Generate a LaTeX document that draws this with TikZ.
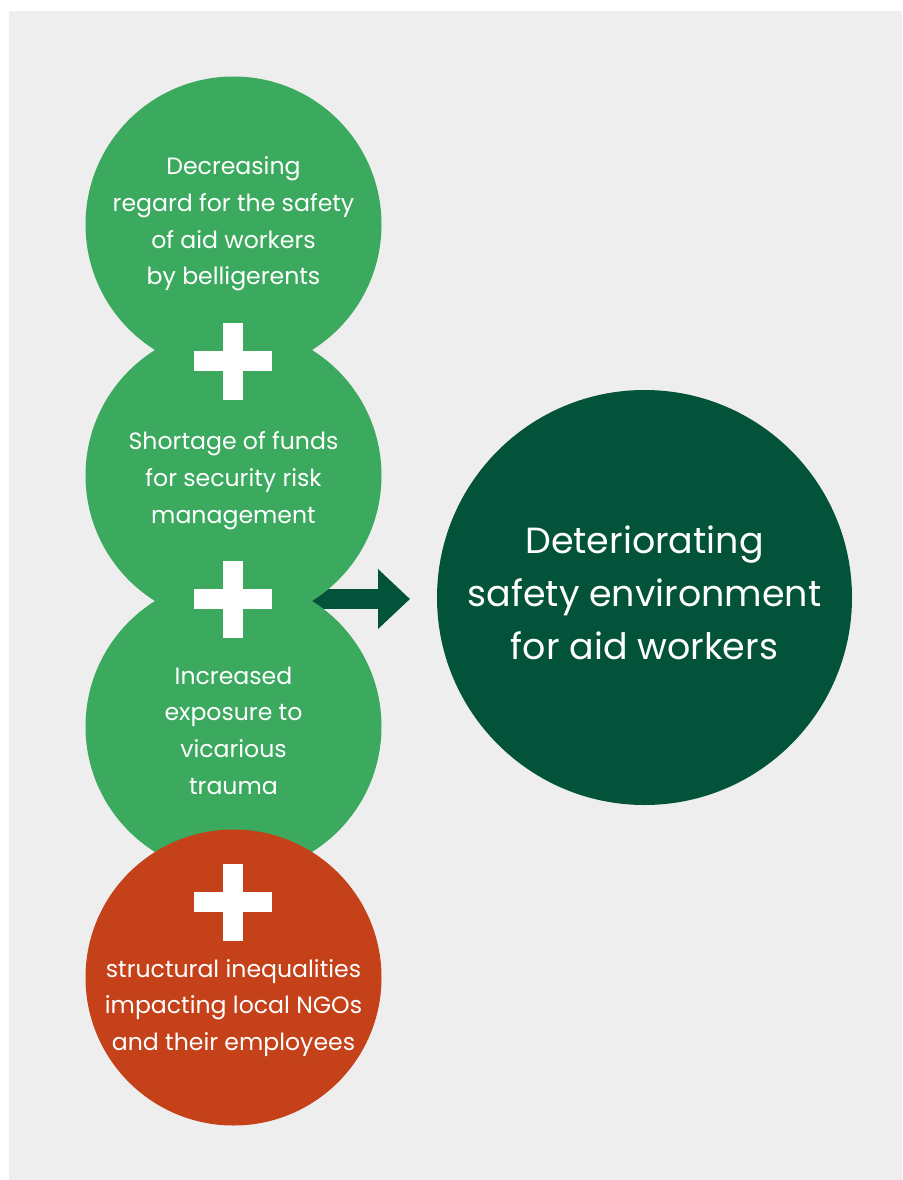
\documentclass[tikz,border=0pt]{standalone}
\usepackage{fontspec}
\setmainfont{Poppins}
\usetikzlibrary{arrows.meta}

\definecolor{panelgray}{HTML}{EEEEEE}
\definecolor{leafgreen}{HTML}{3BAA5F}
\definecolor{pinegreen}{HTML}{02533A}
\definecolor{rustred}{HTML}{C44119}

\tikzset{
  factor/.style={circle, fill=#1, draw=none, inner sep=0pt, minimum size=296pt},
  factortext/.style={text=white, align=center, inner sep=0pt,
    font=\fontsize{23.6}{36.7}\selectfont},
  outcometext/.style={text=white, align=center, inner sep=0pt,
    font=\fontsize{36.4}{53}\selectfont},
  plusbar/.style={fill=white, draw=none, inner sep=0pt},
}

\newcommand{\plussign}[2]{%
  \node[plusbar, minimum width=78pt, minimum height=20pt] (#1h) at (#2) {};
  \node[plusbar, minimum width=20pt, minimum height=77pt] (#1v) at (#2) {};
}

\begin{document}
\begin{tikzpicture}[x=1pt, y=-1pt]
  \useasboundingbox (0,0) rectangle (902,1180);
  \fill[white] (0,0) rectangle (902,1180);
  \fill[panelgray] (9,11) rectangle (902,1180);

  % block arrow, tucked behind the column of circles
  \coordinate (arrowtail) at (300,599);
  \coordinate (arrowtip) at (410,599);
  \draw[pinegreen, line width=20pt, -{Triangle[length=32pt, width=58pt]}]
    (arrowtail) -- (arrowtip);

  % column of contributing factors
  \node[factor=leafgreen] (regard)   at (233.5,224.5) {};
  \node[factor=leafgreen] (funds)    at (233.5,475.5) {};
  \node[factor=leafgreen] (exposure) at (233.5,726.5) {};
  \node[factor=rustred]   (inequal)  at (233.5,977.5) {};

  \plussign{plusa}{233,361}
  \plussign{plusb}{233,599}
  \plussign{plusc}{233,902}

  \node[factortext] (regardtxt) at (233.5,224)
    {Decreasing\\regard for the safety\\of aid workers\\by belligerents};
  \node[factortext] (fundstxt) at (233.5,480.5)
    {Shortage of funds\\for security risk\\management};
  \node[factortext] (exposuretxt) at (233.5,730.5)
    {Increased\\exposure to\\vicarious\\trauma};
  \node[factortext] (inequaltxt) at (233.5,1008)
    {structural inequalities\\impacting local NGOs\\and their employees};

  % outcome
  \node[circle, fill=pinegreen, inner sep=0pt, minimum size=415pt] (outcome)
    at (644.5,597.5) {};
  \node[outcometext] (outcometxt) at (644.5,592.5)
    {Deteriorating\\safety environment\\for aid workers};
\end{tikzpicture}
\end{document}
